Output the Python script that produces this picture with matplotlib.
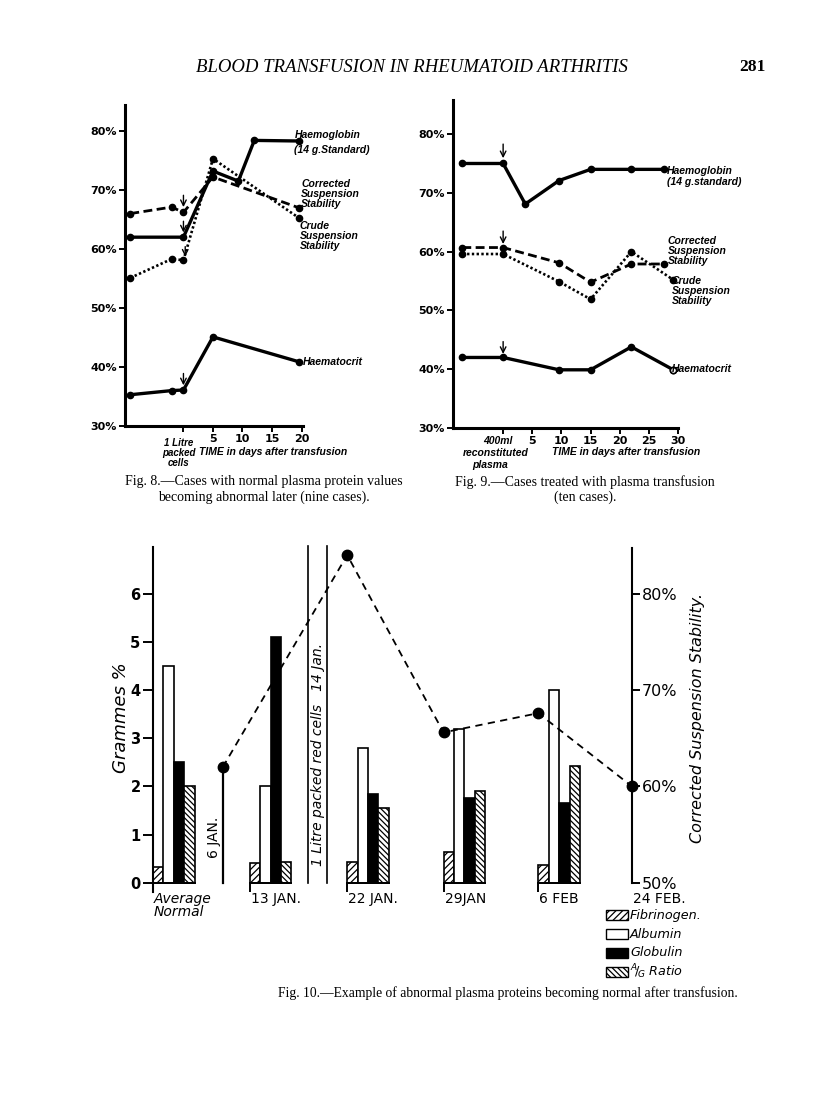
import matplotlib.pyplot as plt
from matplotlib.patches import Rectangle

plt.rcParams['font.family'] = 'DejaVu Sans'
plt.rcParams['hatch.linewidth'] = 0.9
plt.rcParams['mathtext.fontset'] = 'dejavusans'

# ---- Fig. 8 data (days after transfusion, percent) ----
f8_hb_days = [-9, 0, 5, 9.3, 12, 19.5]
f8_hb = [62, 62, 73.2, 71.5, 78.4, 78.3]
f8_css_days = [-9, -2, 0, 5, 19.5]
f8_corrected = [66, 67.1, 66.2, 72.2, 67]
f8_crude = [55.1, 58.3, 58.1, 75.3, 65.3]
f8_hct_days = [-9, -2, 0, 5, 19.5]
f8_hct = [35.3, 36, 36.1, 45.1, 40.9]

# ---- Fig. 9 data ----
f9_hb_days = [-7, 0, 3.8, 9.6, 15, 22, 27.6]
f9_hb = [75, 75, 68.1, 72.1, 74, 74, 74]
f9_corr_days = [-7, 0, 9.6, 15, 22, 27.6]
f9_corrected = [60.7, 60.7, 58.1, 54.8, 57.9, 57.9]
f9_crude_days = [-7, 0, 9.6, 15, 22, 29.2]
f9_crude = [59.6, 59.6, 54.9, 51.9, 60, 55.2]
f9_hct_days = [-7, 0, 9.6, 15, 22, 29.2]
f9_hct = [42, 42, 39.9, 39.9, 43.8, 39.9]

pct_ticks = [30, 40, 50, 60, 70, 80]

# ---- Fig. 10 data ----
groups = ['Average\nNormal', '13 JAN.', '22 JAN.', '29JAN', '6 FEB']
fibrinogen = [0.33, 0.42, 0.43, 0.64, 0.38]
albumin = [4.5, 2.0, 2.8, 3.2, 4.0]
globulin = [2.5, 5.1, 1.85, 1.75, 1.65]
ag_ratio = [2.0, 0.43, 1.55, 1.9, 2.43]
css_dates = ['6 JAN.', '22 JAN.', '29 JAN', '6 FEB', '24 FEB.']
css_values = [62, 84, 65.6, 67.6, 60]

# layout of fig 10 (units = one bar width)
group_x = [0, 9.3, 18.65, 27.9, 37.0]
jan6_x = 6.7
feb24_x = 46.0
litre_lines = [14.9, 16.7]
css_x = [jan6_x, group_x[2], group_x[3], group_x[4], feb24_x]

W, H = 816, 1118


def box(l, t, r, b):
    return [l / W, 1 - b / H, (r - l) / W, (b - t) / H]


def fig_text(x, y, s, **kw):
    fig.text(x / W, 1 - y / H, s, **kw)


fig = plt.figure(figsize=(W / 100, H / 100), dpi=100)

lab = dict(family='Liberation Sans', style='italic', weight='bold', fontsize=7.5)
serif = dict(family='Liberation Serif', fontsize=10)


def style_pct_axes(ax, xt, xtl):
    for s in ['top', 'right']:
        ax.spines[s].set_visible(False)
    for s in ['left', 'bottom']:
        ax.spines[s].set_linewidth(2.2)
    ax.set_yticks(pct_ticks)
    ax.set_yticklabels([f'{v}%' for v in pct_ticks], fontsize=8, weight='bold')
    ax.set_xticks(xt)
    ax.set_xticklabels(xtl, fontsize=8, weight='bold')
    ax.tick_params(direction='out', length=4, width=1.4, pad=2)
    ax.set_facecolor('none')


def draw_series(ax, d_hb, hb, d_c, corr, d_cr, crude, d_h, hct):
    ax.plot(d_hb, hb, '-', color='black', lw=2.4, marker='o', ms=4.5)
    ax.plot(d_c, corr, color='black', lw=2.0, dashes=(3.2, 1.6), marker='o', ms=4.5)
    ax.plot(d_cr, crude, color='black', lw=1.9, dashes=(0.9, 0.9), marker='o', ms=4.5)
    ax.plot(d_h, hct, '-', color='black', lw=2.4, marker='o', ms=4.5)


def arrow(ax, x, y, length):
    ax.annotate('', xy=(x, y), xytext=(x, y + length),
                arrowprops=dict(arrowstyle='->', lw=1.0, color='black',
                                shrinkA=0, shrinkB=0))


# ================= Fig. 8 =================
ax8 = fig.add_axes(box(125, 105, 303, 426))
draw_series(ax8, f8_hb_days, f8_hb, f8_css_days, f8_corrected,
            f8_css_days, f8_crude, f8_hct_days, f8_hct)
ax8.set_xlim(-9.9, 20.25)
ax8.set_ylim(30, 84.4)
style_pct_axes(ax8, [0, 5, 10, 15, 20], ['', '5', '10', '15', '20'])
arrow(ax8, 0, f8_corrected[2] + 0.9, 2.0)
arrow(ax8, 0, f8_hb[1] + 0.8, 1.9)
arrow(ax8, 0.3, f8_crude[2] + 0.6, 1.7)
arrow(ax8, 0, f8_hct[2] + 0.8, 2.0)

fig_text(295, 135, 'Haemoglobin', va='center', **lab)
fig_text(294, 150, '(14 g.Standard)', va='center', **lab)
fig_text(301, 194, 'Corrected\nSuspension\nStability', va='center', linespacing=0.95, **lab)
fig_text(300, 236, 'Crude\nSuspension\nStability', va='center', linespacing=0.95, **lab)
fig_text(303, 362, 'Haematocrit', va='center', **lab)
fig_text(179, 453, '1 Litre\npacked\ncells', ha='center', va='center', linespacing=0.95,
         family='Liberation Sans', style='italic', weight='bold', fontsize=7)
fig_text(199, 452, 'TIME in days after transfusion', va='center', **lab)

# ================= Fig. 9 =================
ax9 = fig.add_axes(box(453, 100, 678, 428))
draw_series(ax9, f9_hb_days, f9_hb, f9_corr_days, f9_corrected,
            f9_crude_days, f9_crude, f9_hct_days, f9_hct)
ax9.plot(f9_hct_days[-1:], f9_hct[-1:], 'o', ms=4.5, mfc='white', mec='black', mew=1.2)
ax9.set_xlim(-8.6, 30.0)
ax9.set_ylim(30, 85.8)
style_pct_axes(ax9, [0, 5, 10, 15, 20, 25, 30], ['', '5', '10', '15', '20', '25', '30'])
arrow(ax9, 0, f9_hb[1] + 0.9, 2.4)
arrow(ax9, 0, f9_corrected[1] + 0.6, 2.2)
arrow(ax9, 0, f9_hct[1] + 0.6, 2.1)

fig_text(667, 171, 'Haemoglobin', va='center', **lab)
fig_text(667, 182, '(14 g.standard)', va='center', **lab)
fig_text(668, 251, 'Corrected\nSuspension\nStability', va='center', linespacing=0.95, **lab)
fig_text(672, 291, 'Crude\nSuspension\nStability', va='center', linespacing=0.95, **lab)
fig_text(672, 369, 'Haematocrit', va='center', **lab)
fig_text(498, 441, '400ml', ha='center', va='center', **lab)
fig_text(496, 453, 'reconstituted', ha='center', va='center', **lab)
fig_text(490, 465, 'plasma', ha='center', va='center', **lab)
fig_text(552, 452, 'TIME in days after transfusion', va='center', **lab)

# captions and header
fig_text(412, 68, 'BLOOD TRANSFUSION IN RHEUMATOID ARTHRITIS', ha='center', va='center',
         family='Liberation Serif', style='italic', fontsize=13.5)
fig_text(766, 67, '281', ha='right', va='center', family='Liberation Serif',
         weight='bold', fontsize=12.5)
fig_text(125, 482, 'Fig. 8.—Cases with normal plasma protein values', va='center', **serif)
fig_text(158, 497, 'becoming abnormal later (nine cases).', va='center', **serif)
fig_text(585, 482, 'Fig. 9.—Cases treated with plasma transfusion', ha='center', va='center', **serif)
fig_text(585, 497, '(ten cases).', ha='center', va='center', **serif)
fig_text(508, 993, 'Fig. 10.—Example of abnormal plasma proteins becoming normal after transfusion.',
         ha='center', va='center', family='Liberation Serif', fontsize=9.8)

# ================= Fig. 10 =================
ax10 = fig.add_axes(box(153, 543, 632, 892))
ax10.set_xlim(0, feb24_x)
ax10.set_ylim(-0.19, 7.05)
ax10.set_facecolor('none')
for s in ['top', 'right', 'bottom']:
    ax10.spines[s].set_visible(False)
ax10.spines['left'].set_linewidth(1.5)
ax10.spines['left'].set_bounds(-0.19, 6.97)
ax10.set_xticks([])
ax10.set_yticks(range(0, 7))
ax10.set_yticklabels([str(v) for v in range(0, 7)], fontsize=10.5, weight='bold')
ax10.tick_params(axis='y', direction='out', length=7, width=1.4, pad=2)

bar_kw = dict(width=1.0, align='edge', edgecolor='black', linewidth=1.2, zorder=2)
for i, gx in enumerate(group_x):
    ax10.bar(gx, fibrinogen[i], facecolor='white', hatch='/////', **bar_kw)
    ax10.bar(gx + 1, albumin[i], facecolor='white', **bar_kw)
    ax10.bar(gx + 2, globulin[i], facecolor='black', **bar_kw)
    ax10.bar(gx + 3, ag_ratio[i], facecolor='white', hatch='\\\\\\\\\\\\', **bar_kw)
    ax10.plot([gx, gx + 4], [0, 0], color='black', lw=1.4, zorder=3)
    ax10.plot([gx, gx], [-0.19, 0], color='black', lw=1.4, zorder=3)
    ax10.text(gx + 0.1, -0.19, groups[i], ha='left', va='top', fontsize=10,
              style='italic' if i == 0 else 'normal', linespacing=0.95)
ax10.text(feb24_x + 0.1, -0.19, css_dates[-1], ha='left', va='top', fontsize=10)

for lx in litre_lines:
    ax10.plot([lx, lx], [0, 6.98], color='black', lw=1.2)
ax10.text(sum(litre_lines) / 2, 2.66, '1 Litre packed red cells   14 Jan.', rotation=90,
          ha='center', va='center', fontsize=10, style='italic')
ax10.text(jan6_x - 0.8, 0.95, css_dates[0], rotation=90, ha='center', va='center', fontsize=10)
ax10.set_ylabel('Grammes %', fontsize=13, style='italic', labelpad=0)

ax10r = ax10.twinx()
ax10r.set_ylim(50 - 0.95, 50 + 7.05 * 5)
for s in ['top', 'left', 'bottom']:
    ax10r.spines[s].set_visible(False)
ax10r.spines['right'].set_linewidth(1.5)
ax10r.spines['right'].set_bounds(50, 84.7)
ax10r.set_yticks([50, 60, 70, 80])
ax10r.set_yticklabels(['50%', '60%', '70%', '80%'], fontsize=11.5)
ax10r.tick_params(axis='y', direction='out', length=6, width=1.4, pad=1)
ax10r.set_ylabel('Corrected Suspension Stability.', fontsize=11.5, style='italic', labelpad=9)
ax10r.plot([jan6_x, jan6_x], [50, css_values[0]], color='black', lw=1.6, zorder=3)
ax10r.plot(css_x, css_values, color='black', lw=1.3, dashes=(4, 3), marker='o',
           ms=7.5, zorder=4, clip_on=False)

# legend drawn by hand so the rows stay evenly spaced
leg_styles = [dict(facecolor='white', hatch='/////'),
              dict(facecolor='white'),
              dict(facecolor='black'),
              dict(facecolor='white', hatch='\\\\\\\\\\\\')]
leg_labels = ['Fibrinogen.', 'Albumin', 'Globulin', r'$^{A}\!/\!_{G}$ Ratio']
for k, (st, txt) in enumerate(zip(leg_styles, leg_labels)):
    yc = 915 + 19 * k
    fig.patches.append(Rectangle((606 / W, 1 - (yc + 5) / H), 22 / W, 10 / H,
                                 transform=fig.transFigure, edgecolor='black',
                                 linewidth=1.0, **st))
    fig_text(630, yc, txt, va='center', fontsize=9.2, style='italic')

fig.savefig('out.png', dpi=100)
